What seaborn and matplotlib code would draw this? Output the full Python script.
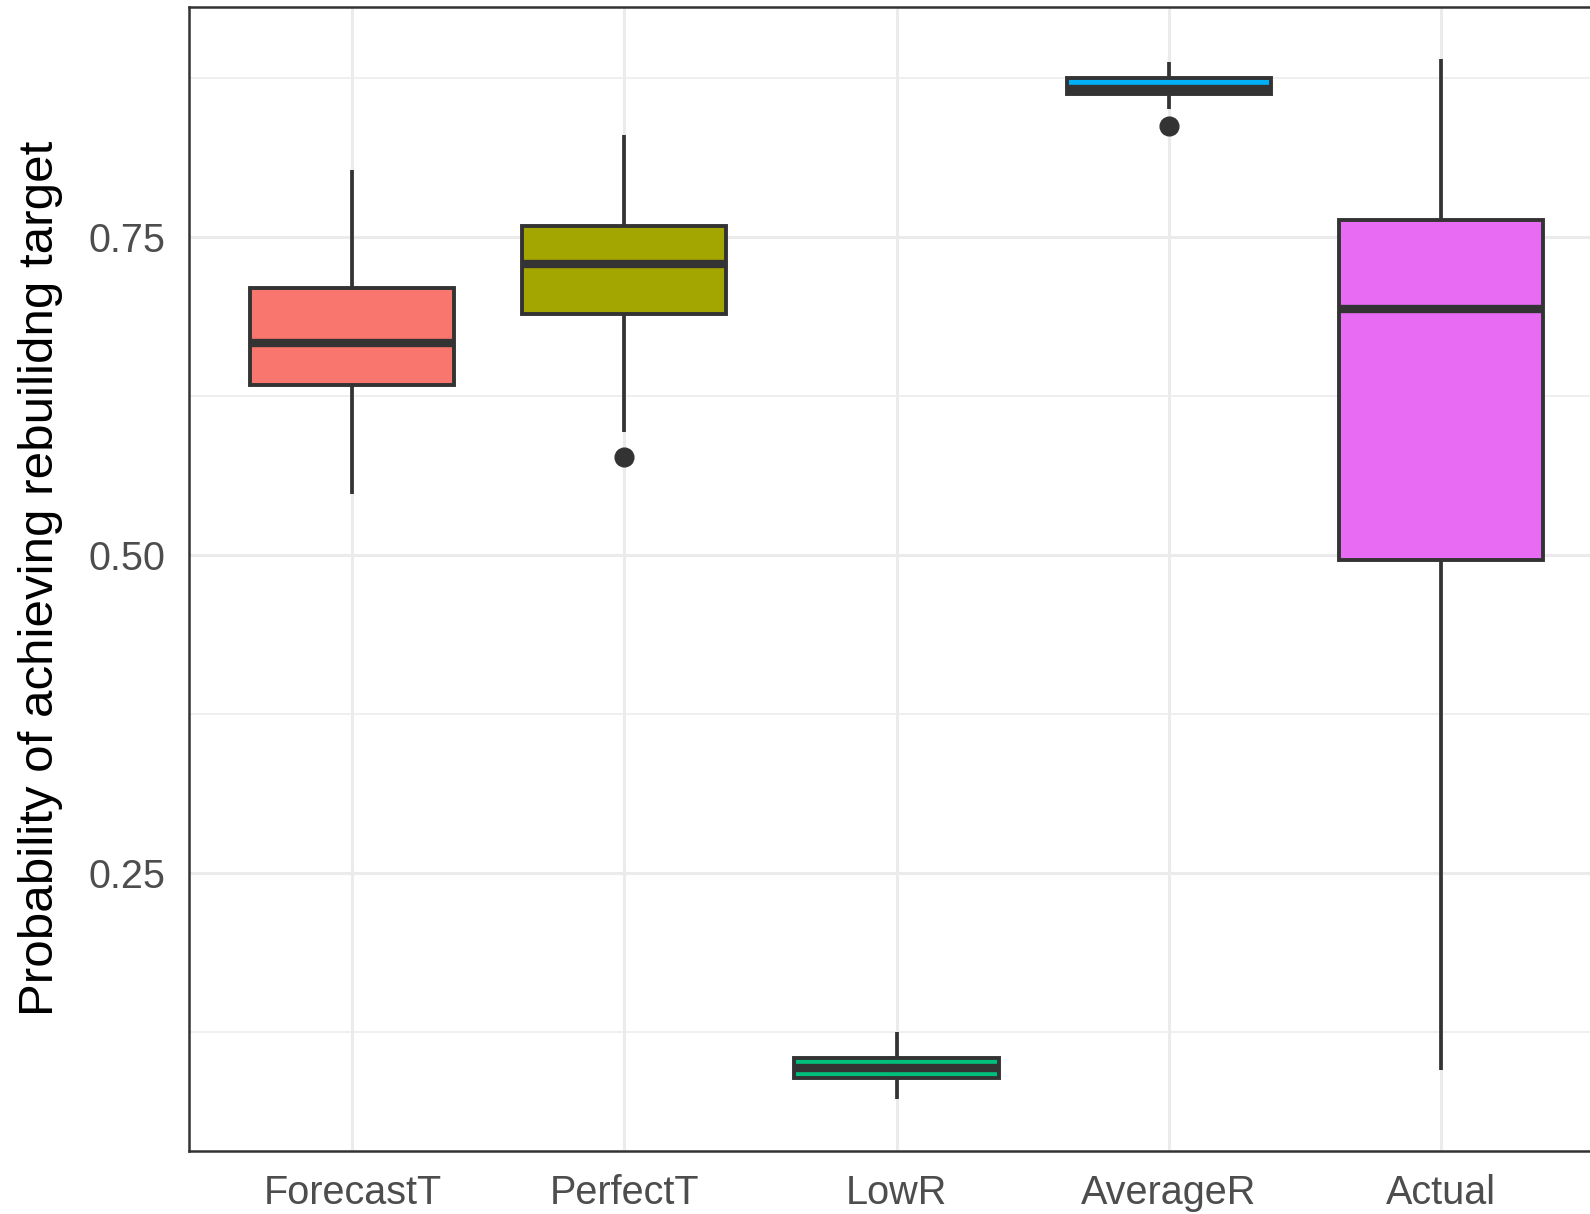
import matplotlib
matplotlib.use("Agg")
import matplotlib.pyplot as plt
import seaborn as sns
from matplotlib.ticker import FixedLocator

# Scenario summaries: five-number box statistics plus outlying runs
scenarios = ["ForecastT", "PerfectT", "LowR", "AverageR", "Actual"]
whisker_low = [0.548, 0.597, 0.0725, 0.851, 0.0953]
q1 = [0.634, 0.690, 0.089, 0.863, 0.4966]
median = [0.667, 0.729, 0.0966, 0.867, 0.694]
q3 = [0.710, 0.7586, 0.1044, 0.875, 0.7634]
whisker_high = [0.8032, 0.8308, 0.1253, 0.888, 0.8903]
outliers = [[], [0.5772], [], [0.838], []]
fill_colors = ["#F8766D", "#A3A500", "#00BF7D", "#00B0F6", "#E76BF3"]

y_ticks = [0.25, 0.50, 0.75]
y_minor = [0.125, 0.375, 0.625, 0.875]
y_label = "Probability of achieving rebuilidng target"

sns.set_theme(style="whitegrid")
plt.rcParams["font.family"] = ["Liberation Sans", "DejaVu Sans"]

ink = "#333333"
grid_col = "#EBEBEB"

fig = plt.figure(figsize=(15.9, 12.14), dpi=100)
fig.patch.set_facecolor("white")
ax = fig.add_axes([0.1189, 0.0522, 0.8899, 0.9420])
ax.set_facecolor("white")

stats = [
    dict(label=s, whislo=lo, q1=a, med=m, q3=b, whishi=hi, fliers=f)
    for s, lo, a, m, b, hi, f in zip(scenarios, whisker_low, q1, median, q3,
                                     whisker_high, outliers)
]
art = ax.bxp(
    stats, positions=list(range(len(scenarios))), widths=0.75,
    patch_artist=True, showcaps=False,
    boxprops=dict(edgecolor=ink, linewidth=2.8),
    medianprops=dict(color=ink, linewidth=6.0, solid_capstyle="butt"),
    whiskerprops=dict(color=ink, linewidth=2.7, solid_capstyle="butt"),
    flierprops=dict(marker="o", markerfacecolor=ink, markeredgecolor=ink,
                    markersize=13.5),
)
for patch, c in zip(art["boxes"], fill_colors):
    patch.set_facecolor(c)

# ggplot-style 5% expansion around the data range
lo_all = min(whisker_low + [v for f in outliers for v in f])
hi_all = max(whisker_high + [v for f in outliers for v in f])
pad = 0.05 * (hi_all - lo_all)
ax.set_ylim(lo_all - pad, hi_all + pad)
ax.set_xlim(-0.6, len(scenarios) - 0.4)

ax.set_xticks(range(len(scenarios)))
ax.set_xticklabels(scenarios)
ax.set_yticks(y_ticks)
ax.set_yticklabels([f"{v:.2f}" for v in y_ticks])
ax.yaxis.set_minor_locator(FixedLocator(y_minor))

ax.set_axisbelow(True)
ax.grid(which="major", axis="both", color=grid_col, linewidth=2.2)
ax.grid(which="minor", axis="y", color=grid_col, linewidth=1.1)
ax.grid(which="minor", axis="x", visible=False)

for sp in ax.spines.values():
    sp.set_visible(True)
    sp.set_color(ink)
    sp.set_linewidth(1.8)

ax.tick_params(axis="both", which="major", length=9, width=2.2, color=ink,
               labelsize=28.5, labelcolor="#4D4D4D")
ax.tick_params(axis="y", which="major", pad=8)
ax.tick_params(axis="x", which="major", pad=8)
ax.tick_params(axis="both", which="minor", length=0)

ax.set_xlabel("")
ax.set_ylabel(y_label, fontsize=35.5, color="black", labelpad=18)

fig.savefig("out.png", dpi=100, facecolor="white")
